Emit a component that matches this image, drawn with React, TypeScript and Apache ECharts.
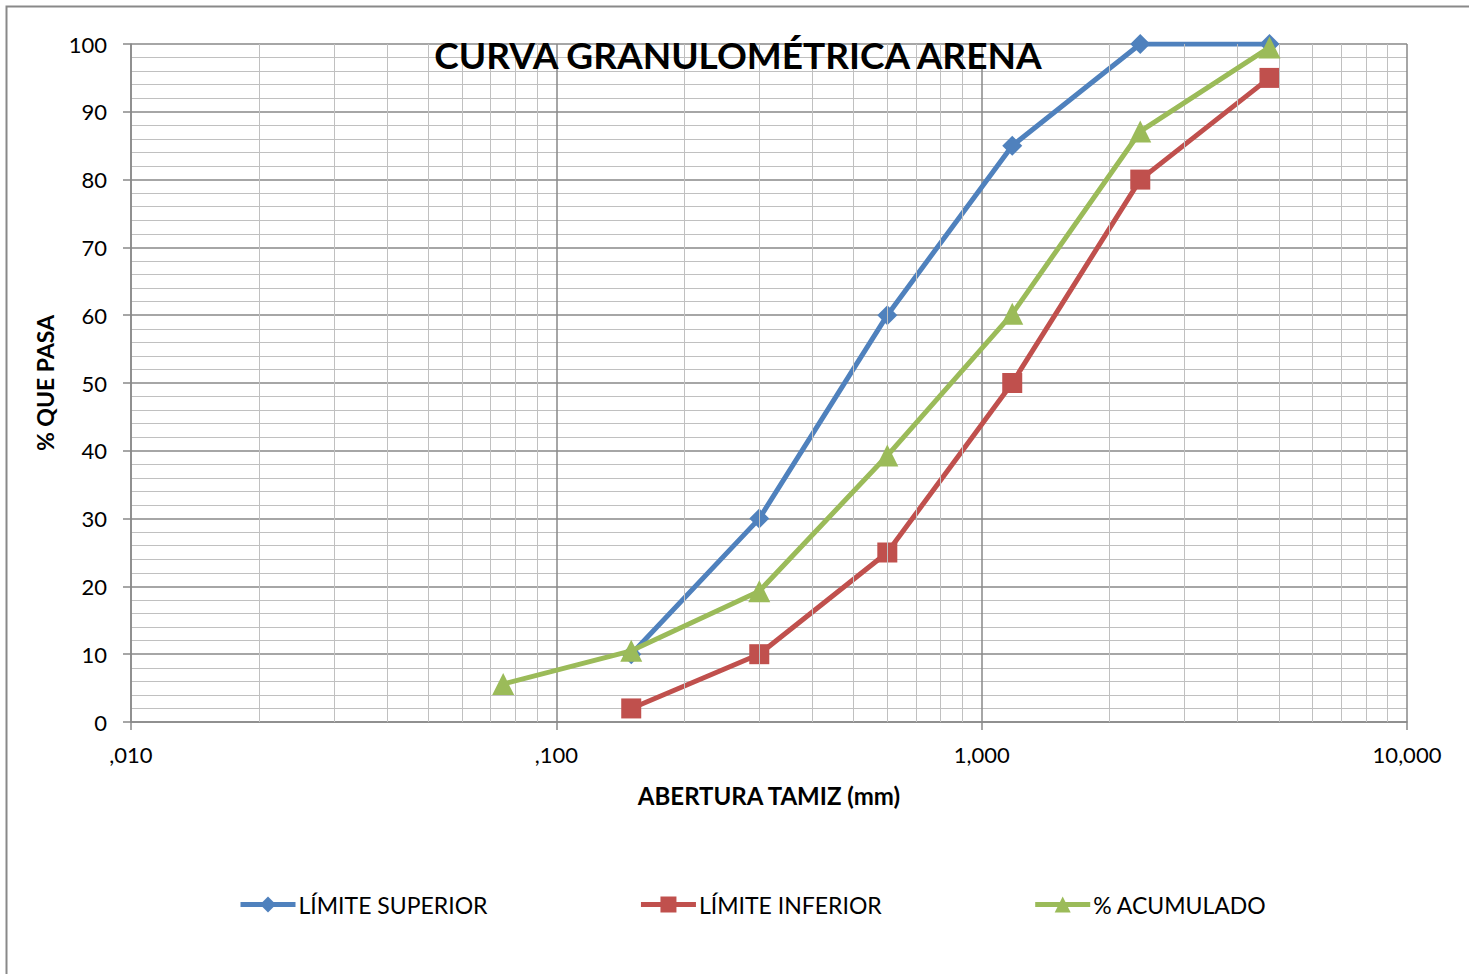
import React, { useEffect, useRef } from "react";
import * as echarts from "echarts";

const sieveSizes = [0.075, 0.15, 0.3, 0.6, 1.18, 2.36, 4.75];
const limiteSuperior: (number | null)[] = [null, 10, 30, 60, 85, 100, 100];
const limiteInferior: (number | null)[] = [null, 2, 10, 25, 50, 80, 95];
const acumulado: (number | null)[] = [5.6, 10.5, 19.3, 39.3, 60.2, 87.1, 99.5];

const xTickLabels = [",010", ",100", "1,000", "10,000"];
const minorXValues = [
  0.02, 0.03, 0.04, 0.05, 0.06, 0.07, 0.08, 0.09,
  0.2, 0.3, 0.4, 0.5, 0.6, 0.7, 0.8, 0.9,
  2, 3, 4, 5, 6, 7, 8, 9,
];

const FONT = "Lato";

function pairs(vals: (number | null)[]) {
  const out: [number, number][] = [];
  vals.forEach((v, i) => {
    if (v !== null) out.push([sieveSizes[i], v]);
  });
  return out;
}

export default function App() {
  const ref = useRef<HTMLDivElement>(null);
  useEffect(() => {
    if (!ref.current) return;
    const chart = echarts.init(ref.current, null, { renderer: "svg" });
    const lineW = 5;
    chart.setOption({
      animation: false,
      backgroundColor: "#ffffff",
      textStyle: { fontFamily: FONT },
      title: {
        text: "CURVA GRANULOMÉTRICA ARENA",
        left: 733,
        top: 31,
        textAlign: "center",
        textStyle: { fontFamily: FONT, fontWeight: "bold", fontSize: 37, color: "#000" },
      },
      graphic: [
        {
          type: "rect",
          shape: { x: 6.5, y: 6.5, width: 1500, height: 1000 },
          style: { fill: "none", stroke: "#898989", lineWidth: 2 },
          silent: true,
        },
      ],
      legend: {
        left: 238,
        top: 893,
        padding: 0,
        itemWidth: 55,
        itemHeight: 20,
        itemGap: 151,
        lineStyle: { width: 5 },
        textStyle: { fontFamily: FONT, fontSize: 23, color: "#000", padding: [0, 0, 0, -2] },
        data: ["LÍMITE SUPERIOR", "LÍMITE INFERIOR", "% ACUMULADO"],
      },
      grid: { left: 131, top: 44, width: 1276, height: 678, containLabel: false },
      xAxis: {
        type: "log",
        logBase: 10,
        min: 0.01,
        max: 10,
        name: "ABERTURA TAMIZ (mm)",
        nameLocation: "middle",
        nameGap: 61,
        nameTextStyle: { fontFamily: FONT, fontWeight: "bold", fontSize: 24, color: "#000" },
        axisLine: { show: true, lineStyle: { color: "#898989", width: 1.5 } },
        axisTick: { show: true, inside: false, length: 8, lineStyle: { color: "#898989", width: 1.5 } },
        axisLabel: {
          margin: 21,
          fontFamily: FONT,
          fontSize: 22,
          color: "#000",
          formatter: (v: number) => xTickLabels[Math.round(Math.log10(v)) + 2] ?? "",
        },
        splitLine: { show: true, lineStyle: { color: "#898989", width: 1.5 } },
      },
      yAxis: {
        type: "value",
        min: 0,
        max: 100,
        interval: 10,
        name: "% QUE PASA",
        nameLocation: "middle",
        nameGap: 75,
        nameTextStyle: { fontFamily: FONT, fontWeight: "bold", fontSize: 23, color: "#000" },
        axisLine: { show: true, lineStyle: { color: "#898989", width: 1.5 } },
        axisTick: { show: true, inside: false, length: 8, lineStyle: { color: "#898989", width: 1.5 } },
        axisLabel: { margin: 24, fontFamily: FONT, fontSize: 22, color: "#000" },
        splitLine: { show: true, lineStyle: { color: "#898989", width: 1.5 } },
        minorTick: { show: false, splitNumber: 5 },
        minorSplitLine: { show: true, lineStyle: { color: "#c0c0c0", width: 1 } },
      },
      series: [
        {
          name: "minor-x",
          type: "line",
          data: [],
          silent: true,
          z: 1,
          markLine: {
            silent: true,
            symbol: ["none", "none"],
            label: { show: false },
            lineStyle: { color: "#c0c0c0", width: 1, type: "solid" },
            data: minorXValues.map((v) => ({ xAxis: v })),
          },
        },
        {
          name: "LÍMITE SUPERIOR",
          type: "line",
          data: pairs(limiteSuperior),
          symbol: "diamond",
          symbolSize: 20,
          z: 3,
          itemStyle: { color: "#4F81BD" },
          lineStyle: { color: "#4F81BD", width: lineW },
        },
        {
          name: "LÍMITE INFERIOR",
          type: "line",
          data: pairs(limiteInferior),
          symbol: "rect",
          symbolSize: 20,
          z: 4,
          itemStyle: { color: "#C0504D" },
          lineStyle: { color: "#C0504D", width: lineW },
        },
        {
          name: "% ACUMULADO",
          type: "line",
          data: pairs(acumulado),
          symbol: "triangle",
          symbolSize: 22,
          z: 5,
          itemStyle: { color: "#9BBB59" },
          lineStyle: { color: "#9BBB59", width: lineW },
        },
      ],
    });
    return () => chart.dispose();
  }, []);
  return (
    <div
      ref={ref}
      style={{ position: "absolute", left: 0, top: 0, width: 1469, height: 974 }}
    />
  );
}
